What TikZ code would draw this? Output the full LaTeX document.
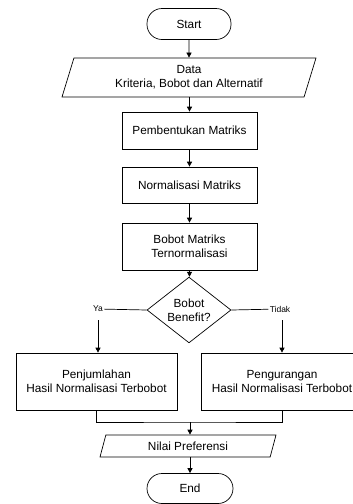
\documentclass[tikz,border=0pt]{standalone}
\usepackage{fontspec}
\setmainfont{Liberation Sans}
\usetikzlibrary{shapes.geometric,arrows.meta}
\begin{document}
\begin{tikzpicture}[x=1pt, y=-1pt, line width=0.7pt,
  every node/.style={font=\fontsize{11.8}{13.8}\selectfont, align=center},
  term/.style={draw, rectangle, rounded corners=15pt, minimum width=84pt, minimum height=31pt},
  proc/.style={draw, rectangle, minimum width=135pt, inner sep=0pt},
  io/.style={draw, trapezium, trapezium stretches body, inner sep=0pt},
  decision/.style={draw, diamond, minimum width=84pt, minimum height=46pt, inner sep=0pt},
  lbl/.style={font=\fontsize{8.5}{10}\selectfont, inner xsep=1pt, inner ysep=8pt},
  arrow/.style={-{Triangle[length=5pt,width=5pt]}}]
\useasboundingbox (0,0) rectangle (353,504);
\node (start) at (189,24) [term] {Start};
\node (data) at (189,77.5) [io, trapezium left angle=63, trapezium right angle=117, minimum width=254pt, minimum height=39pt] {Data\\Kriteria, Bobot dan Alternatif};
\node (bentuk) at (189.5,130.5) [proc, minimum height=37pt] {Pembentukan Matriks};
\node (norm) at (189.5,185) [proc, minimum height=36pt] {Normalisasi Matriks};
\node (bobot) at (189.5,246.5) [proc, minimum height=47pt] {Bobot Matriks\\Ternormalisasi};
\node (benefit) at (189,310) [decision] {Bobot\\Benefit?};
\node (ya) at (98,309) [lbl] {Ya};
\node (tidak) at (280,309) [lbl] {Tidak};
\node (jumlah) at (96.5,381.5) [proc, minimum width=161pt, minimum height=57pt] {Penjumlahan\\Hasil Normalisasi Terbobot};
\node (kurang) at (282,381.5) [proc, minimum width=161pt, minimum height=57pt] {Pengurangan\\Hasil Normalisasi Terbobot};
\coordinate (gabung) at (190,422);
\node (nilai) at (188,446) [io, trapezium left angle=56, trapezium right angle=124, minimum width=176pt, minimum height=22pt] {Nilai Preferensi};
\node (end) at (190,488.5) [term, minimum width=86pt, minimum height=30pt] {End};

\draw [arrow] (start) -- (data);
\draw [arrow] (data.south -| bentuk) -- (bentuk);
\draw [arrow] (bentuk) -- (norm);
\draw [arrow] (norm) -- (bobot);
\draw [arrow] (bobot) -- (bobot |- benefit.north);
\draw (benefit.west) -- (ya);
\draw [arrow] (ya.south) -- (ya.south |- jumlah.north);
\draw (benefit.east) -- (tidak);
\draw [arrow] (tidak.south -| kurang) -- (kurang);
\draw (jumlah.south) |- (gabung) -| (kurang.south);
\draw [arrow] (gabung) -- (gabung |- nilai.north);
\draw [arrow] (nilai.south -| end) -- (end);
\end{tikzpicture}
\end{document}
